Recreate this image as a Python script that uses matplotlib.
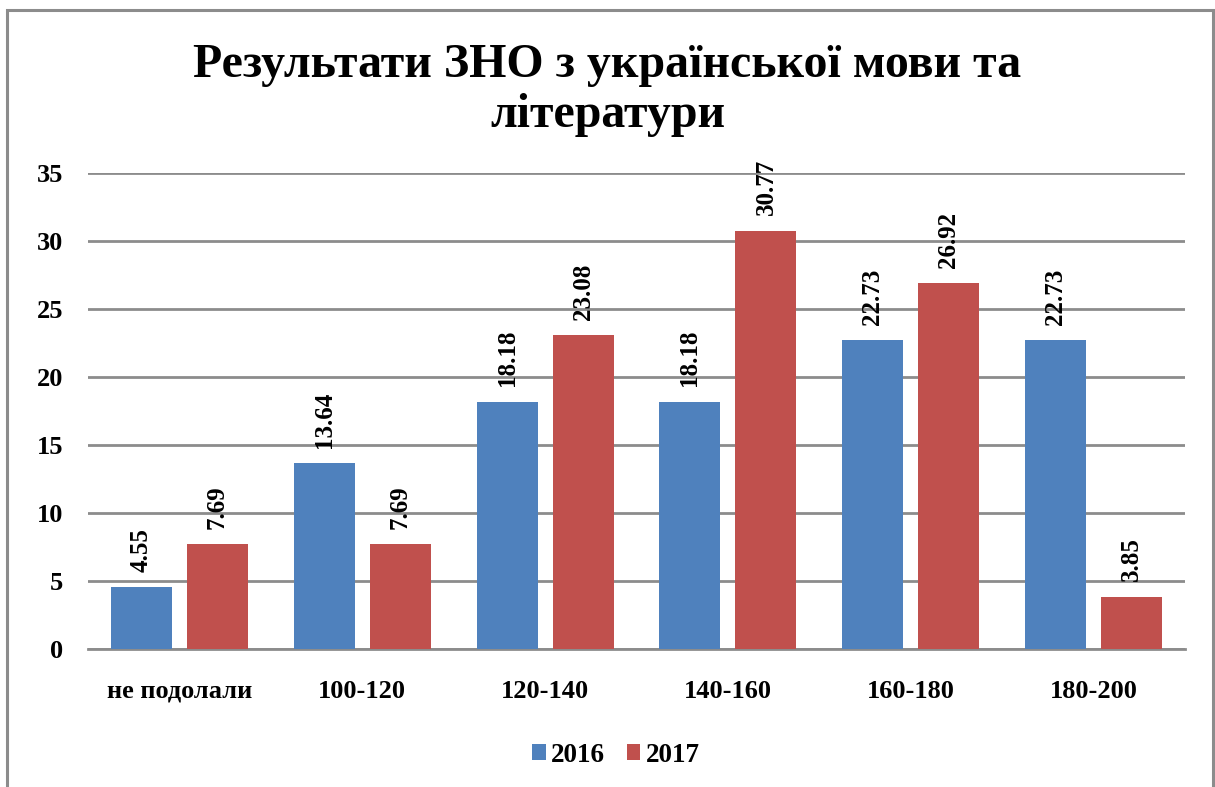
import matplotlib
matplotlib.use("Agg")
import matplotlib.pyplot as plt
from matplotlib.patches import Rectangle
import numpy as np

categories = ["не подолали", "100-120", "120-140", "140-160", "160-180", "180-200"]
values_2016 = [4.55, 13.64, 18.18, 18.18, 22.73, 22.73]
values_2017 = [7.69, 7.69, 23.08, 30.77, 26.92, 3.85]
series_names = ["2016", "2017"]
yticks = [0, 5, 10, 15, 20, 25, 30, 35]
title = "Результати ЗНО з української мови та\nлітератури"

plt.rcParams['font.family'] = ['Liberation Serif', 'DejaVu Serif']
plt.rcParams['font.weight'] = 'bold'

fig = plt.figure(figsize=(12.15, 7.87), dpi=100)
fig.patch.set_facecolor('white')

# outer border
fig.patches.append(Rectangle((7/1215, -0.1), (1213-7)/1215, (787-10)/787 + 0.1,
                             transform=fig.transFigure, fill=False,
                             edgecolor='#8c8c8c', linewidth=2.2, zorder=0))

ax = fig.add_axes([88/1215, (787-649)/787, (1185-88)/1215, (649-173)/787])
x = np.arange(len(categories))
w = 0.334
off = 0.208
c1, c2 = '#4F81BD', '#C0504D'
b1 = ax.bar(x - off, values_2016, w, color=c1, label=series_names[0], zorder=3)
b2 = ax.bar(x + off, values_2017, w, color=c2, label=series_names[1], zorder=3)

for bars, vals in ((b1, values_2016), (b2, values_2017)):
    for b, v in zip(bars, vals):
        ax.annotate(f"{v:.2f}", (b.get_x() + b.get_width()/2, v),
                    xytext=(0, 11), textcoords='offset points',
                    rotation=90, ha='center', va='bottom',
                    fontsize=18, fontweight='bold')

ax.set_xlim(-0.5, len(categories) - 0.5)
ax.set_ylim(0, 35)
ax.set_yticks(yticks)
ax.set_yticklabels([str(t) for t in yticks], fontsize=19, fontweight='bold')
ax.set_xticks(x)
ax.set_xticklabels(categories, fontsize=19, fontweight='bold')
ax.tick_params(axis='both', length=0)
ax.tick_params(axis='y', pad=18)
ax.tick_params(axis='x', pad=22)
ax.yaxis.grid(True, color='#8c8c8c', linewidth=2)
ax.set_axisbelow(True)
for s in ['top', 'right', 'left']:
    ax.spines[s].set_visible(False)
ax.spines['bottom'].set_color('#8c8c8c')
ax.spines['bottom'].set_linewidth(2)

fig.text(0.5, (787-90)/787, title, ha='center', va='center',
         fontsize=34.5, fontweight='bold', linespacing=1.2)

leg = fig.legend(handles=[b1, b2], labels=series_names, loc='center',
                 bbox_to_anchor=(616/1215, (787-755)/787), ncol=2, frameon=False,
                 prop={'size': 19.5, 'weight': 'bold'}, handlelength=0.5,
                 handleheight=0.5, handletextpad=0.2, columnspacing=0.8)

fig.savefig('out.png', dpi=100, facecolor='white')
